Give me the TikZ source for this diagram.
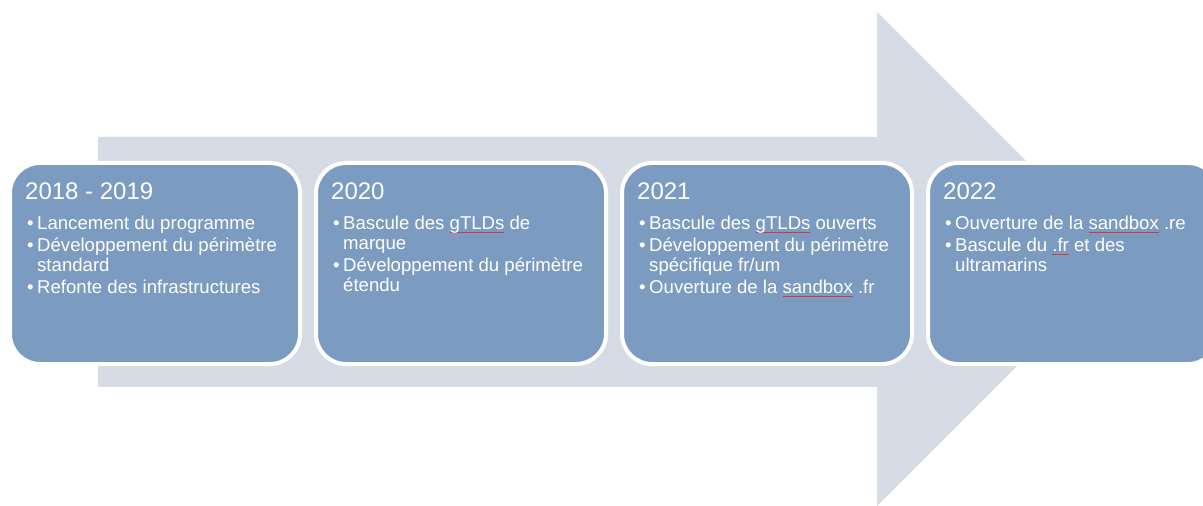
\documentclass[tikz,border=0pt]{standalone}
\usepackage{fontspec}
\setmainfont{Liberation Sans}
\definecolor{arrowc}{HTML}{D6DCE5}
\definecolor{boxc}{HTML}{7C9BC0}
\definecolor{sqc}{HTML}{D9383A}
\newcommand\squig[1]{\sbox0{#1}\rlap{\textcolor{sqc}{\rule[-2.5bp]{\wd0}{0.7bp}}}#1}
\begin{document}
\begin{tikzpicture}[x=1bp,y=-1bp,
 box/.style={draw=white,line width=4bp,fill=boxc,rounded corners=30bp,
   minimum width=290bp,minimum height=201bp,anchor=north west,inner sep=0},
 ttl/.style={anchor=base west,inner sep=0,text=white,font=\fontsize{24bp}{24bp}\selectfont},
 itm/.style={anchor=base west,inner sep=0,text=white,font=\fontsize{18.6bp}{20bp}\selectfont},
]
\path[use as bounding box] (0,0) rectangle (1203,506);
\clip (0,0) rectangle (1203,506);
\fill[arrowc] (98,137) -- (877,137) -- (877,12) -- (1124,259) -- (877,506) -- (877,387) -- (98,387) -- cycle;
% boxes
\node[box] (box1) at (8,161) {};
\node[box] (box2) at (314,161) {};
\node[box] (box3) at (620,161) {};
\node[box] (box4) at (926,161) {};
% box 1
\node[ttl] (t1) at (25,200) {2018 - 2019};
\node[itm] (p1a) at (27,230) {•};
\node[itm] (l1a) at (37,230) {Lancement du programme};
\node[itm] (p1b) at (27,252) {•};
\node[itm] (l1b) at (37,252) {Développement du périmètre};
\node[itm] (l1c) at (37,272) {standard};
\node[itm] (p1d) at (27,294) {•};
\node[itm] (l1d) at (37,294) {Refonte des infrastructures};
% box 2
\node[ttl] (t2) at (331,200) {2020};
\node[itm] (p2a) at (333,230) {•};
\node[itm] (l2a) at (343,230) {Bascule des \squig{gTLDs} de};
\node[itm] (l2b) at (343,250) {marque};
\node[itm] (p2c) at (333,272) {•};
\node[itm] (l2c) at (343,272) {Développement du périmètre};
\node[itm] (l2d) at (343,292) {étendu};
% box 3
\node[ttl] (t3) at (637,200) {2021};
\node[itm] (p3a) at (639,230) {•};
\node[itm] (l3a) at (649,230) {Bascule des \squig{gTLDs} ouverts};
\node[itm] (p3b) at (639,252) {•};
\node[itm] (l3b) at (649,252) {Développement du périmètre};
\node[itm] (l3c) at (649,272) {spécifique fr/um};
\node[itm] (p3d) at (639,294) {•};
\node[itm] (l3d) at (649,294) {Ouverture de la \squig{sandbox} .fr};
% box 4
\node[ttl] (t4) at (943,200) {2022};
\node[itm] (p4a) at (945,230) {•};
\node[itm] (l4a) at (955,230) {Ouverture de la \squig{sandbox} .re};
\node[itm] (p4b) at (945,252) {•};
\node[itm] (l4b) at (955,252) {Bascule du \squig{.fr} et des};
\node[itm] (l4c) at (955,272) {ultramarins};
\end{tikzpicture}
\end{document}
